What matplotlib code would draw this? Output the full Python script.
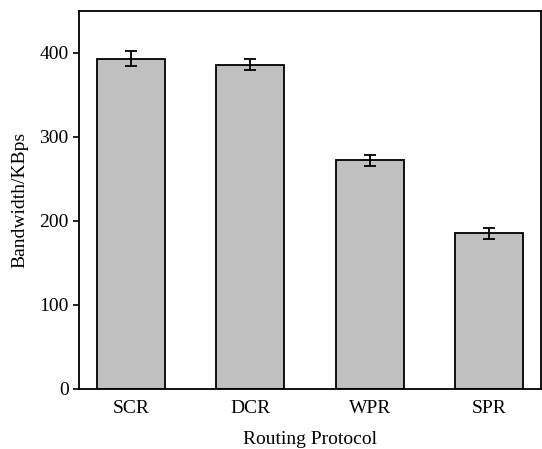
import matplotlib.pyplot as plt

protocols = ['SCR', 'DCR', 'WPR', 'SPR']
bandwidth = [393, 386, 272, 185]
errors = [9, 7, 6.5, 7]

plt.rcParams['font.family'] = ['Liberation Serif', 'DejaVu Serif']

fig = plt.figure(figsize=(5.42, 4.49), dpi=100)
ax = fig.add_axes([0.146, 0.134, 0.852, 0.842])

x = range(len(protocols))
ax.bar(x, bandwidth, width=0.567, color='#c0c0c0', edgecolor='black', linewidth=1.3,
       yerr=errors, capsize=4, error_kw={'elinewidth': 1.3, 'capthick': 1.3, 'ecolor': 'black'})

ax.set_xlim(-0.433, 3.433)
ax.set_ylim(0, 450)
ax.set_yticks([0, 100, 200, 300, 400])
ax.set_xticks(list(x))
ax.set_xticklabels(protocols)
ax.tick_params(axis='x', length=0, labelsize=14, pad=8)
ax.tick_params(axis='y', direction='out', length=4, width=1.2, labelsize=14)
for s in ax.spines.values():
    s.set_linewidth(1.3)

ax.set_xlabel('Routing Protocol', fontsize=14, labelpad=10)
ax.set_ylabel('Bandwidth/KBps', fontsize=14, labelpad=8)

fig.savefig('out.png', dpi=100)
